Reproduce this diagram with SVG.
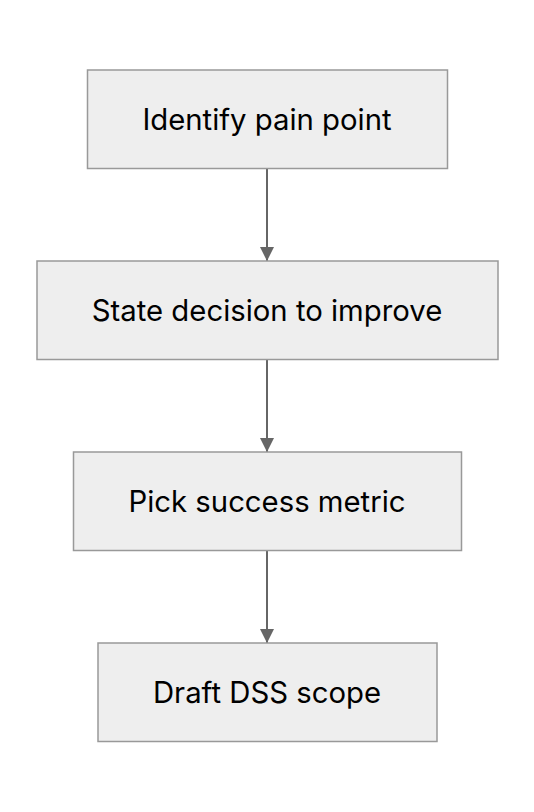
<svg xmlns="http://www.w3.org/2000/svg" width="534" height="812" viewBox="0 0 534 812">
<style>
.box{fill:#eeeeee;stroke:#999999;stroke-width:1.5}
.lbl{font-family:Inter,"Liberation Sans",sans-serif;font-size:29.3px;fill:#000;text-anchor:middle;dominant-baseline:central}
.edge{stroke:#666666;stroke-width:2;fill:none}
</style>
<defs>
<marker id="arr" viewBox="0 0 10 10" refX="10" refY="5" markerUnits="userSpaceOnUse" markerWidth="15" markerHeight="14" orient="auto">
<path d="M0,0 L10,5 L0,10 z" fill="#666666"/>
</marker>
</defs>
<rect width="534" height="812" fill="#ffffff"/>
<g id="connectors">
<line class="edge" x1="267" y1="169" x2="267" y2="261" marker-end="url(#arr)"/>
<line class="edge" x1="267" y1="360" x2="267" y2="452" marker-end="url(#arr)"/>
<line class="edge" x1="267" y1="551" x2="267" y2="643" marker-end="url(#arr)"/>
</g>
<g id="n1"><rect class="box" x="87.5" y="70" width="360" height="98.5"/><text class="lbl" x="267" y="119">Identify pain point</text></g>
<g id="n2"><rect class="box" x="37" y="261" width="461" height="98.5"/><text class="lbl" x="267" y="310">State decision to improve</text></g>
<g id="n3"><rect class="box" x="73.5" y="452" width="388" height="98.5"/><text class="lbl" x="267" y="501">Pick success metric</text></g>
<g id="n4"><rect class="box" x="98" y="643" width="339" height="98.5"/><text class="lbl" x="267" y="692">Draft DSS scope</text></g>
</svg>
